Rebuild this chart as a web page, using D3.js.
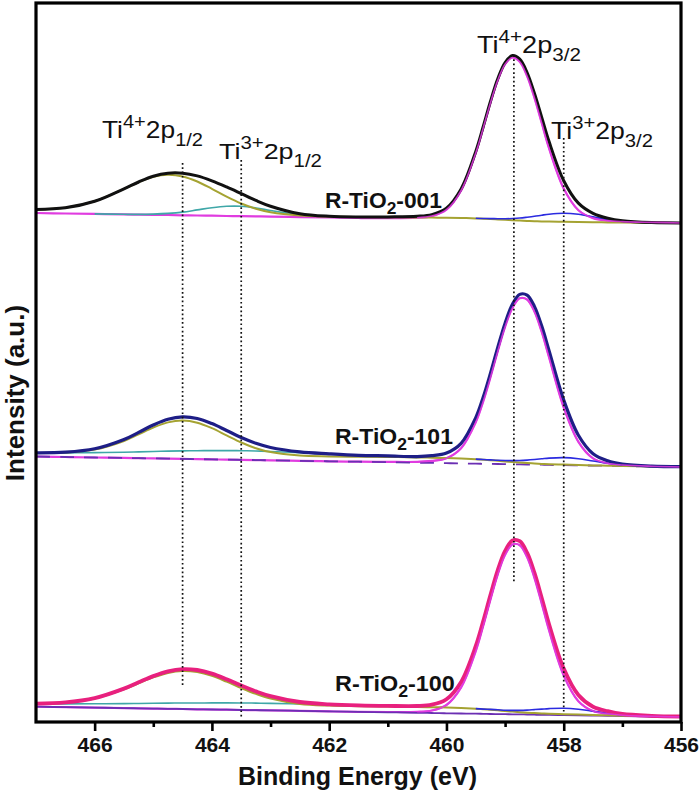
<!DOCTYPE html>
<html><head><meta charset="utf-8">
<script src="https://cdn.jsdelivr.net/npm/d3@7"></script>
<style>body{margin:0;background:#fff;} svg{display:block;font-family:Arial,"Liberation Sans",sans-serif;}</style>
</head><body><svg id="c" width="700" height="796"></svg>
<script>
// ---------------- DATA ----------------
const energies = [467, 466.5, 466, 465.5, 465.25, 465, 464.75, 464.5, 464.25, 464, 463.75, 463.5, 463.25, 463, 462.5, 462, 461.5, 461, 460.5, 460.25, 460, 459.75, 459.5, 459.375, 459.25, 459.125, 459, 458.875, 458.75, 458.625, 458.5, 458.375, 458.25, 458, 457.75, 457.5, 457.25, 457, 456.5, 456];
const energiesP12 = [467, 466.5, 466, 465.5, 465.25, 465, 464.75, 464.5, 464.25, 464, 463.75, 463.5, 463.25, 463, 462.5, 462, 461.5, 461];
const energiesP32 = [461, 460.5, 460.25, 460, 459.75, 459.5, 459.375, 459.25, 459.125, 459, 458.875, 458.75, 458.625, 458.5, 458.375, 458.25, 458, 457.75, 457.5, 457.25, 457, 456.5, 456];

const sampleNames = ["001", "101", "100"];
const offsets = [494, 250, 0];

// R-TiO2-001
const shirley001 = [19.0, 18.6, 18.2, 17.6, 17.2, 16.8, 16.3, 15.8, 15.3, 14.8, 14.3, 13.9, 13.5, 13.2, 12.7, 12.3, 12.0, 11.8, 11.5, 11.4, 11.2, 11.0, 10.6, 10.3, 10.0, 9.6, 9.2, 8.8, 8.4, 8.1, 7.8, 7.6, 7.4, 7.2, 7.0, 6.8, 6.6, 6.5, 6.2, 6.0];
const linear001 = [16.0, 15.5, 15.1, 14.6, 14.4, 14.2, 14.0, 13.7, 13.5, 13.3, 13.0, 12.8, 12.6, 12.4, 11.9, 11.5, 11.0, 10.5, 10.1, 9.9, 9.6, 9.4, 9.2, 9.1, 9.0, 8.8, 8.7, 8.6, 8.5, 8.4, 8.3, 8.2, 8.0, 7.8, 7.6, 7.4, 7.1, 6.9, 6.5, 6.0];
const ti4p12_001 = [0.5, 2.6, 9.5, 22.5, 29.6, 35.3, 37.9, 36.8, 32.2, 25.4, 18.1, 11.6, 6.7, 3.5, 0.7, 0.1, 0, 0];
const ti3p12_001 = [0, 0, 0, 0.1, 0.2, 0.7, 1.6, 3.2, 5.6, 8.0, 9.7, 9.9, 8.4, 6.1, 1.9, 0.3, 0, 0];
const ti4p32_001 = [0.3, 1.2, 3.0, 9.7, 29.1, 66.9, 91.5, 117.1, 139.9, 156.2, 162.9, 158.8, 144.6, 123.0, 97.8, 72.6, 32.6, 11.2, 3.5, 1.3, 0.5, 0.1, 0];
const ti3p32_001 = [0, 0, 0, 0, 0, 0.1, 0.2, 0.4, 0.7, 1.0, 1.7, 2.6, 3.7, 4.9, 6.2, 7.4, 8.5, 7.7, 5.4, 2.9, 1.2, 0.1, 0];

// R-TiO2-101
const shirley101 = [20.0, 19.8, 19.6, 19.3, 19.1, 18.9, 18.7, 18.4, 18.1, 17.8, 17.5, 17.3, 17.1, 16.9, 16.7, 16.5, 16.2, 16.0, 15.6, 15.3, 15.0, 14.5, 13.8, 13.3, 12.8, 12.2, 11.6, 11.0, 10.4, 9.9, 9.5, 9.1, 8.8, 8.4, 8.0, 7.6, 7.3, 7.0, 6.6, 6.3];
const linear101 = [16.5, 16.0, 15.5, 15.1, 14.8, 14.6, 14.4, 14.1, 13.9, 13.6, 13.4, 13.2, 12.9, 12.7, 12.2, 11.7, 11.3, 10.8, 10.3, 10.1, 9.8, 9.6, 9.3, 9.2, 9.1, 9.0, 8.9, 8.7, 8.6, 8.5, 8.4, 8.3, 8.1, 7.9, 7.7, 7.4, 7.2, 7.0, 6.5, 6.0];
const ti4p12_101 = [0.1, 0.7, 3.8, 12.7, 19.5, 26.5, 31.9, 34.0, 32.2, 27.0, 20.1, 13.2, 7.7, 4.0, 0.7, 0.1, 0, 0];
const ti3p12_101 = [0.1, 0.3, 0.8, 1.5, 2.0, 2.6, 3.2, 3.7, 4.2, 4.6, 4.9, 5.0, 4.9, 4.6, 3.7, 2.6, 1.5, 0.8];
const ti4p32_101 = [0.3, 0.8, 2.0, 5.0, 15.2, 41.5, 62.0, 86.5, 112.8, 137.3, 156.3, 166.1, 165.0, 153.1, 132.7, 107.5, 57.6, 23.5, 7.3, 2.5, 1.0, 0.2, 0];
const ti3p32_101 = [0, 0, 0, 0, 0, 0.1, 0.2, 0.3, 0.5, 0.9, 1.4, 2.1, 3.0, 4.0, 5.1, 6.1, 7.0, 6.3, 4.4, 2.4, 1.0, 0.1, 0];

// R-TiO2-100
const shirley100 = [19.0, 18.9, 18.8, 18.6, 18.5, 18.4, 18.3, 18.1, 17.9, 17.8, 17.6, 17.5, 17.4, 17.3, 17.1, 17.0, 16.7, 16.4, 16.0, 15.8, 15.5, 15.0, 14.3, 13.8, 13.3, 12.7, 12.0, 11.4, 10.8, 10.3, 9.9, 9.5, 9.2, 8.8, 8.4, 8.0, 7.7, 7.3, 6.9, 6.5];
const linear100 = [16.3, 15.8, 15.4, 14.9, 14.7, 14.4, 14.2, 14.0, 13.7, 13.5, 13.3, 13.0, 12.8, 12.6, 12.1, 11.6, 11.1, 10.7, 10.2, 10.0, 9.7, 9.5, 9.3, 9.2, 9.0, 8.9, 8.8, 8.7, 8.6, 8.5, 8.3, 8.2, 8.1, 7.9, 7.6, 7.4, 7.2, 6.9, 6.5, 6.0];
const ti4p12_100 = [0.3, 1.5, 5.7, 15.0, 21.2, 27.2, 31.8, 33.9, 33.0, 29.3, 23.7, 17.4, 11.7, 7.2, 2.0, 0.4, 0.1, 0];
const ti3p12_100 = [0.1, 0.2, 0.4, 0.8, 1.0, 1.3, 1.6, 1.9, 2.1, 2.3, 2.5, 2.5, 2.5, 2.3, 1.9, 1.3, 0.8, 0.4];
const ti4p32_100 = [0.3, 1.0, 2.5, 8.3, 26.1, 62.6, 87.5, 114.4, 139.7, 159.4, 169.9, 169.2, 157.4, 136.9, 111.2, 84.4, 39.6, 14.2, 4.5, 2.0, 0.8, 0.2, 0];
const ti3p32_100 = [0, 0, 0, 0, 0, 0.1, 0.1, 0.3, 0.5, 0.7, 1.2, 1.8, 2.6, 3.5, 4.4, 5.2, 6.0, 5.4, 3.8, 2.1, 0.9, 0.1, 0];

const xTicksMajor = [466, 464, 462, 460, 458, 456];
const xTicksMinor = [465, 463, 461, 459, 457];
const markerEnergies = [464.5, 463.5, 458.85, 458.0];

// ---------------- LAYOUT ----------------
const svg = d3.select("#c");
const L = 36, R = 681, T = 3, B = 722;
const x = d3.scaleLinear().domain([467, 456]).range([L, R]);
const y = d3.scaleLinear().domain([0, 720]).range([723, 3]);

const spectra = [
  {shirley: shirley001, linear: linear001, a: ti4p12_001, b: ti3p12_001, c: ti4p32_001, d: ti3p32_001, env: "#111111", envW: 3, purple: false, tealRange: [466, 462.5], tealOnLinear: true},
  {shirley: shirley101, linear: linear101, a: ti4p12_101, b: ti3p12_101, c: ti4p32_101, d: ti3p32_101, env: "#1e1e86", envW: 3.2, purple: "dash", tealRange: [467, 460.5], tealOnLinear: false},
  {shirley: shirley100, linear: linear100, a: ti4p12_100, b: ti3p12_100, c: ti4p32_100, d: ti3p32_100, env: "#e8207e", envW: 3.8, purple: "solid", tealRange: [467, 460.5], tealOnLinear: false}
];

const sub = (arr, grid, e) => { const i = grid.indexOf(e); return i < 0 ? 0 : arr[i]; };
const line = d3.line().x(d => x(d[0])).y(d => y(d[1])).curve(d3.curveCatmullRom.alpha(0.5));
const within = (r) => d => d[0] <= r[0] && d[0] >= r[1];

const plot = svg.append("g");
spectra.forEach((s, si) => {
  const off = offsets[si];
  const A = e => sub(s.a, energiesP12, e), Bq = e => sub(s.b, energiesP12, e);
  const C = e => sub(s.c, energiesP32, e), D = e => sub(s.d, energiesP32, e);
  const env = energies.map((e, k) => [e, off + s.shirley[k] + A(e) + Bq(e) + C(e) + D(e)]);
  const olive = energies.map((e, k) => [e, off + s.shirley[k] + A(e)]);
  const teal = energies.map((e, k) => [e, off + (s.tealOnLinear ? s.linear[k] : s.shirley[k]) + Bq(e)]).filter(within(s.tealRange));
  const mag = energies.map((e, k) => [e, off + s.linear[k] + C(e)]);
  const blue = energies.map((e, k) => [e, off + s.shirley[k] + D(e)]).filter(within([459.5, 457]));
  const bg = energies.map((e, k) => [e, off + s.linear[k]]);
  const g = plot.append("g").attr("fill", "none").attr("stroke-linejoin", "round");
  g.append("path").attr("d", line(mag)).attr("stroke", "#e03ce0").attr("stroke-width", 2.2);
  if (s.purple) g.append("path").attr("d", line(bg)).attr("stroke", "#6b2fb3").attr("stroke-width", 1.8)
      .attr("stroke-dasharray", s.purple === "dash" ? "14,10" : null);
  g.append("path").attr("d", line(teal)).attr("stroke", "#3fa7a8").attr("stroke-width", 1.6);
  g.append("path").attr("d", line(olive)).attr("stroke", "#a5a332").attr("stroke-width", 2);
  g.append("path").attr("d", line(blue)).attr("stroke", "#2b2be0").attr("stroke-width", 1.6);
  g.append("path").attr("d", line(env)).attr("stroke", s.env).attr("stroke-width", s.envW);
  g.append("path").attr("d", line(mag.filter(d => d[0] <= 460.5))).attr("stroke", "#e03ce0").attr("stroke-width", 1.6).attr("opacity", 0.85);
});

// dotted marker lines (top / bottom in pixels)
const markerSpan = [[163, 685], [160, 718], [55, 583], [138, 712]];
markerEnergies.forEach((e, i) => {
  svg.append("line").attr("x1", x(e)).attr("x2", x(e)).attr("y1", markerSpan[i][0]).attr("y2", markerSpan[i][1])
    .attr("stroke", "#111").attr("stroke-width", 1.7).attr("stroke-dasharray", "1.7,2.6");
});

// frame + axis
svg.append("rect").attr("x", L).attr("y", T).attr("width", R - L).attr("height", B - T)
  .attr("fill", "none").attr("stroke", "#000").attr("stroke-width", 3.2);
const ax = svg.append("g").attr("transform", `translate(0,${B})`)
  .call(d3.axisBottom(x).tickValues(xTicksMajor).tickSize(9).tickPadding(6).tickFormat(d3.format("d")));
ax.select(".domain").remove();
ax.selectAll(".tick line").attr("stroke", "#000").attr("stroke-width", 2.6);
ax.selectAll(".tick text").attr("font-size", 21).attr("font-weight", "bold").attr("fill", "#111")
  .attr("font-family", "Arial, 'Liberation Sans', sans-serif");
const axm = svg.append("g").attr("transform", `translate(0,${B})`)
  .call(d3.axisBottom(x).tickValues(xTicksMinor).tickSize(5).tickFormat(""));
axm.select(".domain").remove();
axm.selectAll(".tick line").attr("stroke", "#000").attr("stroke-width", 2.6);

svg.append("text").attr("x", (L + R) / 2 - 1).attr("y", 785).attr("text-anchor", "middle")
  .attr("font-size", 25).attr("font-weight", "bold").attr("fill", "#111").text("Binding Energy (eV)");
svg.append("text").attr("transform", "translate(24,393) rotate(-90)").attr("text-anchor", "middle")
  .attr("font-size", 26).attr("font-weight", "bold").attr("fill", "#111").text("Intensity (a.u.)");

// rich labels
function rich(parts, px, py, size, weight, targetW, supDy, subDy) {
  const t = svg.append("text").attr("font-size", size).attr("font-weight", weight).attr("fill", "#111");
  let shift = 0;
  parts.forEach(p => {
    const want = p.sup ? supDy : p.sub ? subDy : 0;
    t.append("tspan").attr("dy", want - shift).attr("font-size", p.sup || p.sub ? size * 0.76 : size).text(p.t);
    shift = want;
  });
  const w = t.node().getBBox().width;
  t.attr("transform", `translate(${px},${py}) scale(${targetW / w},1)`);
}
rich([{t: "Ti"}, {t: "4+", sup: 1}, {t: "2p"}, {t: "1/2", sub: 1}], 102, 138, 23, "normal", 101, -10, 8);
rich([{t: "Ti"}, {t: "3+", sup: 1}, {t: "2p"}, {t: "1/2", sub: 1}], 219, 159, 23, "normal", 103, -10, 8);
rich([{t: "Ti"}, {t: "4+", sup: 1}, {t: "2p"}, {t: "3/2", sub: 1}], 477, 53, 23, "normal", 104, -10, 8);
rich([{t: "Ti"}, {t: "3+", sup: 1}, {t: "2p"}, {t: "3/2", sub: 1}], 551, 139, 23, "normal", 102, -10, 8);

const sampleLabelPos = [[325, 208, 117], [335, 444, 118], [335, 691, 120]];
sampleNames.forEach((n, i) => {
  const p = sampleLabelPos[i];
  rich([{t: "R-TiO"}, {t: "2", sub: 1}, {t: "-" + n}], p[0], p[1], 22, "bold", p[2], -9, 6);
});
</script></body></html>
